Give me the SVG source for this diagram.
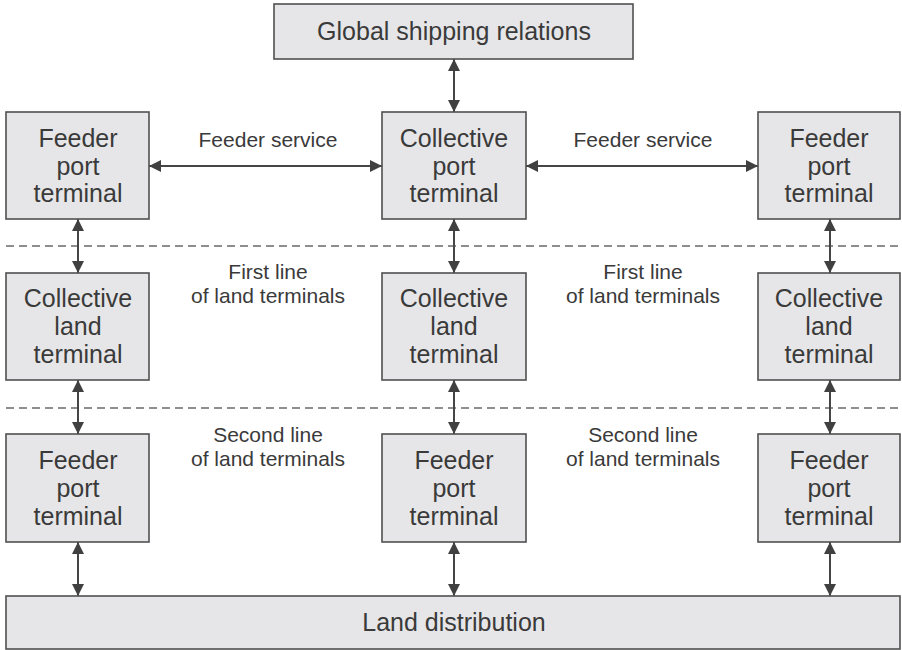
<svg xmlns="http://www.w3.org/2000/svg" width="902" height="650" viewBox="0 0 902 650">
  <style>
    .box { fill: #e6e6e8; stroke: #505050; stroke-width: 1.6; }
    .t { font-family: "Liberation Sans", Arial, sans-serif; font-size: 25px; fill: #3a3a3a; text-anchor: middle; }
    .lbl { font-family: "Liberation Sans", Arial, sans-serif; font-size: 21px; fill: #3a3a3a; text-anchor: middle; }
    .arr { stroke: #454545; stroke-width: 2; fill: none; marker-start: url(#head); marker-end: url(#head); }
    .dash { stroke: #6a6a6a; stroke-width: 1.5; stroke-dasharray: 8 5; fill: none; }
  </style>
  <defs>
    <marker id="head" viewBox="0 0 12 12" refX="12" refY="6" markerWidth="12" markerHeight="12" markerUnits="userSpaceOnUse" orient="auto-start-reverse">
      <path d="M0,0 L12,6 L0,12 z" fill="#404040"/>
    </marker>
  </defs>
  <rect width="902" height="650" fill="#ffffff"/>

  <!-- tier separators -->
  <g id="separators">
    <line class="dash" x1="6" y1="246" x2="902" y2="246"/>
    <line class="dash" x1="6" y1="408" x2="902" y2="408"/>
  </g>

  <!-- connectors -->
  <g id="connectors">
    <line class="arr" x1="454" y1="59" x2="454" y2="112"/>
    <line class="arr" x1="149" y1="166" x2="382" y2="166"/>
    <line class="arr" x1="526" y1="166" x2="758" y2="166"/>
    <line class="arr" x1="78" y1="219" x2="78" y2="273"/>
    <line class="arr" x1="454" y1="219" x2="454" y2="273"/>
    <line class="arr" x1="830" y1="219" x2="830" y2="273"/>
    <line class="arr" x1="78" y1="380" x2="78" y2="434"/>
    <line class="arr" x1="454" y1="380" x2="454" y2="434"/>
    <line class="arr" x1="830" y1="380" x2="830" y2="434"/>
    <line class="arr" x1="78" y1="542" x2="78" y2="596"/>
    <line class="arr" x1="454" y1="542" x2="454" y2="596"/>
    <line class="arr" x1="830" y1="542" x2="830" y2="596"/>
  </g>

  <!-- connector labels -->
  <g id="labels">
    <text class="lbl" x="268" y="147">Feeder service</text>
    <text class="lbl" x="643" y="147">Feeder service</text>
    <text class="lbl" x="268" y="279">First line</text>
    <text class="lbl" x="268" y="303">of land terminals</text>
    <text class="lbl" x="643" y="279">First line</text>
    <text class="lbl" x="643" y="303">of land terminals</text>
    <text class="lbl" x="268" y="442">Second line</text>
    <text class="lbl" x="268" y="466">of land terminals</text>
    <text class="lbl" x="643" y="442">Second line</text>
    <text class="lbl" x="643" y="466">of land terminals</text>
  </g>

  <g id="global">
    <rect class="box" x="274" y="4" width="359" height="55"/>
    <text class="t" x="454" y="40">Global shipping relations</text>
  </g>

  <g id="feeder-port-left">
    <rect class="box" x="6" y="112" width="143" height="107"/>
    <text class="t" x="78" y="147">Feeder</text>
    <text class="t" x="78" y="174.5">port</text>
    <text class="t" x="78" y="202">terminal</text>
  </g>
  <g id="collective-port">
    <rect class="box" x="382" y="112" width="144" height="107"/>
    <text class="t" x="454" y="147">Collective</text>
    <text class="t" x="454" y="174.5">port</text>
    <text class="t" x="454" y="202">terminal</text>
  </g>
  <g id="feeder-port-right">
    <rect class="box" x="758" y="112" width="142" height="107"/>
    <text class="t" x="829" y="147">Feeder</text>
    <text class="t" x="829" y="174.5">port</text>
    <text class="t" x="829" y="202">terminal</text>
  </g>

  <g id="collective-land-left">
    <rect class="box" x="6" y="273" width="143" height="107"/>
    <text class="t" x="78" y="307">Collective</text>
    <text class="t" x="78" y="335">land</text>
    <text class="t" x="78" y="363">terminal</text>
  </g>
  <g id="collective-land-center">
    <rect class="box" x="382" y="273" width="144" height="107"/>
    <text class="t" x="454" y="307">Collective</text>
    <text class="t" x="454" y="335">land</text>
    <text class="t" x="454" y="363">terminal</text>
  </g>
  <g id="collective-land-right">
    <rect class="box" x="758" y="273" width="142" height="107"/>
    <text class="t" x="829" y="307">Collective</text>
    <text class="t" x="829" y="335">land</text>
    <text class="t" x="829" y="363">terminal</text>
  </g>

  <g id="feeder-land-left">
    <rect class="box" x="6" y="434" width="143" height="108"/>
    <text class="t" x="78" y="469">Feeder</text>
    <text class="t" x="78" y="497">port</text>
    <text class="t" x="78" y="525">terminal</text>
  </g>
  <g id="feeder-land-center">
    <rect class="box" x="382" y="434" width="144" height="108"/>
    <text class="t" x="454" y="469">Feeder</text>
    <text class="t" x="454" y="497">port</text>
    <text class="t" x="454" y="525">terminal</text>
  </g>
  <g id="feeder-land-right">
    <rect class="box" x="758" y="434" width="142" height="108"/>
    <text class="t" x="829" y="469">Feeder</text>
    <text class="t" x="829" y="497">port</text>
    <text class="t" x="829" y="525">terminal</text>
  </g>

  <g id="land-distribution">
    <rect class="box" x="6" y="596" width="894" height="53"/>
    <text class="t" x="454" y="631">Land distribution</text>
  </g>
</svg>
